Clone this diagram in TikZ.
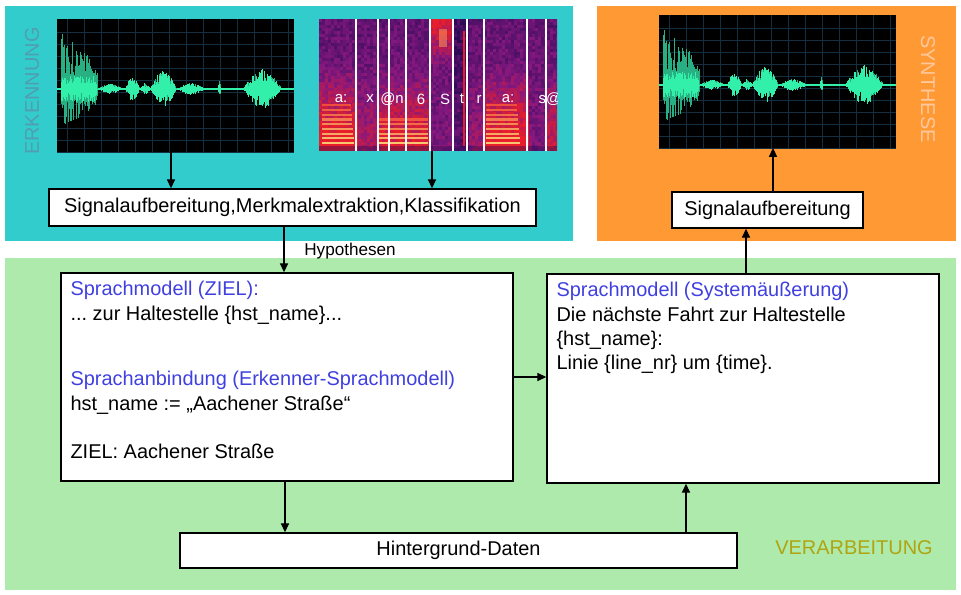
\documentclass[tikz,border=0pt]{standalone}
\usepackage{fontspec}
\setmainfont{Liberation Sans}
\usetikzlibrary{arrows.meta,positioning,calc}
\definecolor{erkbg}{RGB}{51,204,204}
\definecolor{synbg}{RGB}{255,153,51}
\definecolor{verbg}{RGB}{174,234,172}
\definecolor{erkfg}{RGB}{80,158,176}
\definecolor{synfg}{RGB}{255,200,158}
\definecolor{verfg}{RGB}{176,164,16}
\definecolor{headblue}{RGB}{64,64,224}
\definecolor{wavecore}{RGB}{50,240,170}
\definecolor{wavespike}{RGB}{40,175,130}
\definecolor{wavegrid}{RGB}{20,46,66}
\definecolor{spdark}{RGB}{40,10,82}
\definecolor{splight}{RGB}{130,24,128}
\definecolor{spred}{RGB}{235,30,40}
\definecolor{spyel}{RGB}{250,215,120}
\newcommand{\pxu}{0.02cm}
\tikzset{
  box/.style={draw, rectangle, line width=0.9pt, fill=white, inner sep=0pt, font=\fontsize{11.35}{13.9}\selectfont},
  txt/.style={align=left, inner sep=0pt, anchor=north west, font=\fontsize{11.35}{13.9}\selectfont\frenchspacing},
  arr/.style={-{Triangle[length=5pt,width=4.6pt]}, line width=0.6pt},
  side/.style={font=\fontsize{11.35}{13.9}\selectfont, inner sep=0pt},
  hyplbl/.style={font=\fontsize{9.75}{11}\selectfont, inner sep=0pt, anchor=west},
  phone/.style={text=white, font=\fontsize{8.5}{10}\selectfont, inner sep=0pt},
  imgbox/.style={rectangle, inner sep=0pt, outer sep=0pt},
  wave/.pic={
    \pgfmathsetseed{4711}
    \fill[black] (0,0) rectangle (237,133);
    \foreach \gy in {13,25,...,133} \draw[wavegrid, line width=0.4pt] (0,\gy) -- (237,\gy);
    \foreach \gx in {10,27,...,237} \draw[wavegrid, line width=0.4pt] (\gx,0) -- (\gx,133);
    \draw[wavecore, line width=0.7pt] (0,70) -- (237,70);
    \foreach \a/\b/\m/\k/\c in {4/40/57/1/13, 40/66/5/0/5, 68/83/12/0/12, 83/93/6/0/6, 93/120/18/0/18, 120/148/6/0/6, 161/164/9/0/9, 186/225/20/0/20}{
      \pgfmathsetmacro\ab{\a+1}
      \foreach \i in {\a,\ab,...,\b}{
        \pgfmathsetmacro\e{\m*(\k*(1-0.55*(\i-\a)/(\b-\a)) + (1-\k)*abs(sin(180*(\i-\a)/(\b-\a))))}
        \pgfmathsetmacro\r{rnd}
        \pgfmathsetmacro\s{rnd}
        \draw[wavespike, line width=0.4pt] (\i,70-\e*0.3-\e*0.7*\r) -- (\i,70+0.7*\e*0.3+0.7*\e*0.7*\s);
      }
      \pgfmathsetmacro\ac{\a+0.6}
      \foreach \i in {\a,\ac,...,\b}{
        \pgfmathsetmacro\e{min(\c,\m*(\k*(1-0.55*(\i-\a)/(\b-\a)) + (1-\k)*abs(sin(180*(\i-\a)/(\b-\a)))))}
        \pgfmathsetmacro\r{rnd}
        \pgfmathsetmacro\s{rnd}
        \draw[wavecore, line width=0.35pt] (\i,70-\e*0.3-\e*0.7*\r) -- (\i,70+\e*0.3+\e*0.7*\s);
      }
    }
  }
}
\begin{document}
\begin{tikzpicture}[x=0.02cm,y=-0.02cm]
\useasboundingbox (0,0) rectangle (961,595);
% panels
\fill[erkbg] (5,6) rectangle (573,241);
\fill[synbg] (597,6) rectangle (956,241);
\fill[verbg] (5,258) rectangle (956,590);
\node[side, rotate=90, text=erkfg] (lblerk) at (32,91) {ERKENNUNG};
\node[side, rotate=-90, text=synfg] (lblsyn) at (928,89) {SYNTHESE};
\node[side, text=verfg] (lblver) at (854,548) {VERARBEITUNG};

% signal pictures
\node[imgbox, minimum width=237*\pxu, minimum height=133*\pxu] (wave1) at (175.5,85.5) {};
\pic at (wave1.north west) {wave};
\node[imgbox, minimum width=237*\pxu, minimum height=133*\pxu] (wave2) at (777.5,81.5) {};
\pic at (wave2.north west) {wave};
\node[imgbox, minimum width=238*\pxu, minimum height=132*\pxu] (spec) at (438,85) {};
\begin{scope}[shift={(spec.north west)}]
  \clip (0,0) rectangle (238,132);
  \pgfmathsetseed{99}
  \foreach \cx in {0,3,...,237}{
    \pgfmathsetmacro\vb{(\cx<37) + (\cx>=37)*(\cx<59)*0.35 + (\cx>=59)*(\cx<111)*0.8 + (\cx>=148)*(\cx<165)*0.2 + (\cx>=165)*(\cx<208) + (\cx>=227)*0.6}
    \pgfmathsetmacro\vt{(\cx>=111)*(\cx<134)}
    \pgfmathsetmacro\vd{(\cx>=134)*(\cx<148)}
    \foreach \cy in {0,3,...,129}{
      \pgfmathsetmacro\I{max(0,min(99,18+30*rnd+0.12*\cy+\vb*max(0,\cy-40)*0.75+\vt*max(0,50-\cy)*1.3-\vd*22))}
      \ifdim\I pt<50pt
        \pgfmathsetmacro\q{int(2*\I)}\def\spc{splight!\q!spdark}
      \else
        \pgfmathsetmacro\q{int(2*(\I-50))}\def\spc{spred!\q!splight}
      \fi
      \fill[\spc] (\cx,\cy) rectangle ++(3.2,3.2);
    }
  }
  \fill[spyel!60!spred, opacity=0.6] (120,10) rectangle (128,28);
  \draw[spred, line width=1.5pt] (145,12) -- (145,127);
  \foreach \k in {0,...,8}{
    \pgfmathsetmacro\c{int(90-8*\k)}
    \draw[spyel!\c!spred, line width=1.2pt] (3,124-4.7*\k) -- (35-0.4*\k,124-4.7*\k);
    \draw[spyel!\c!spred, line width=1.2pt] (167,124-4.7*\k) -- (201-0.4*\k,124-4.7*\k);
  }
  \foreach \k in {0,...,5}{
    \pgfmathsetmacro\c{int(90-12*\k)}
    \draw[spyel!\c!spred, line width=1.2pt] (60,124-4.7*\k) -- (109,124-4.7*\k);
  }
  \fill[spdark, opacity=0.4] (0,127) rectangle (238,132);
  \foreach \lx in {37,59,70,87,111,134,148,165,208,227}
    \draw[white, line width=0.8pt] (\lx,0) -- (\lx,132);
  \foreach \ph/\phx in {a:/22, x/51, @n/73, 6/102, S/126, t/143, r/160, a:/189, s@/231}
    \node[phone] (ph\phx) at (\phx,80) {\ph};
\end{scope}

% boxes
\node[box, minimum width=487*\pxu, minimum height=37*\pxu] (sig) at (292.5,207.5) {Signalaufbereitung,Merkmalextraktion,Klassifikation};
\node[box, minimum width=191*\pxu, minimum height=36*\pxu] (synbox) at (767.5,210) {Signalaufbereitung};
\node[box, minimum width=452*\pxu, minimum height=208*\pxu] (lm) at (287,377) {};
\node[txt] (lmtxt) at ([shift={(10,8.7)}]lm.north west) {{\color{headblue}Sprachmodell (ZIEL):}\\
... zur Haltestelle \{hst\_name\}...\\[23.5pt]
{\color{headblue}Sprachanbindung (Erkenner-Sprachmodell)}\\
hst\_name := „Aachener Straße“\\[13.3pt]
ZIEL: Aachener Straße};
\node[box, minimum width=392*\pxu, minimum height=209*\pxu] (out) at (743,378.5) {};
\node[txt] (outtxt) at ([shift={(10,8.7)}]out.north west) {{\color{headblue}Sprachmodell (Systemäußerung)}\\
Die nächste Fahrt zur Haltestelle\\
\{hst\_name\}:\\
Linie \{line\_nr\} um \{time\}.};
\node[box, minimum width=557*\pxu, minimum height=35*\pxu] (dat) at (458.5,550.5) {Hintergrund-Daten};

% connectors
\coordinate (a1) at ([shift={(-4.5,0)}]wave1.south);
\coordinate (a2) at ([shift={(-6,0)}]spec.south);
\coordinate (a3) at ([shift={(-8.5,0)}]sig.south);
\coordinate (a5) at ([shift={(-2,0)}]lm.south);
\coordinate (a6) at ([shift={(-57,0)}]out.south);
\coordinate (a7) at ([shift={(3,0)}]out.north);
\coordinate (a8) at ([shift={(5.5,0)}]synbox.north);
\draw[arr] (a1) -- (a1 |- sig.north);
\draw[arr] (a2) -- (a2 |- sig.north);
\draw[arr] (a3) -- (a3 |- lm.north);
\node[hyplbl] (hyp) at (304,251) {Hypothesen};
\draw[arr] (lm.east) -- (lm.east -| out.west);
\draw[arr] (a5) -- (a5 |- dat.north);
\draw[arr] (a6 |- dat.north) -- (a6);
\draw[arr] (a7) -- (a7 |- synbox.south);
\draw[arr] (a8) -- (a8 |- wave2.south);
\end{tikzpicture}
\end{document}
